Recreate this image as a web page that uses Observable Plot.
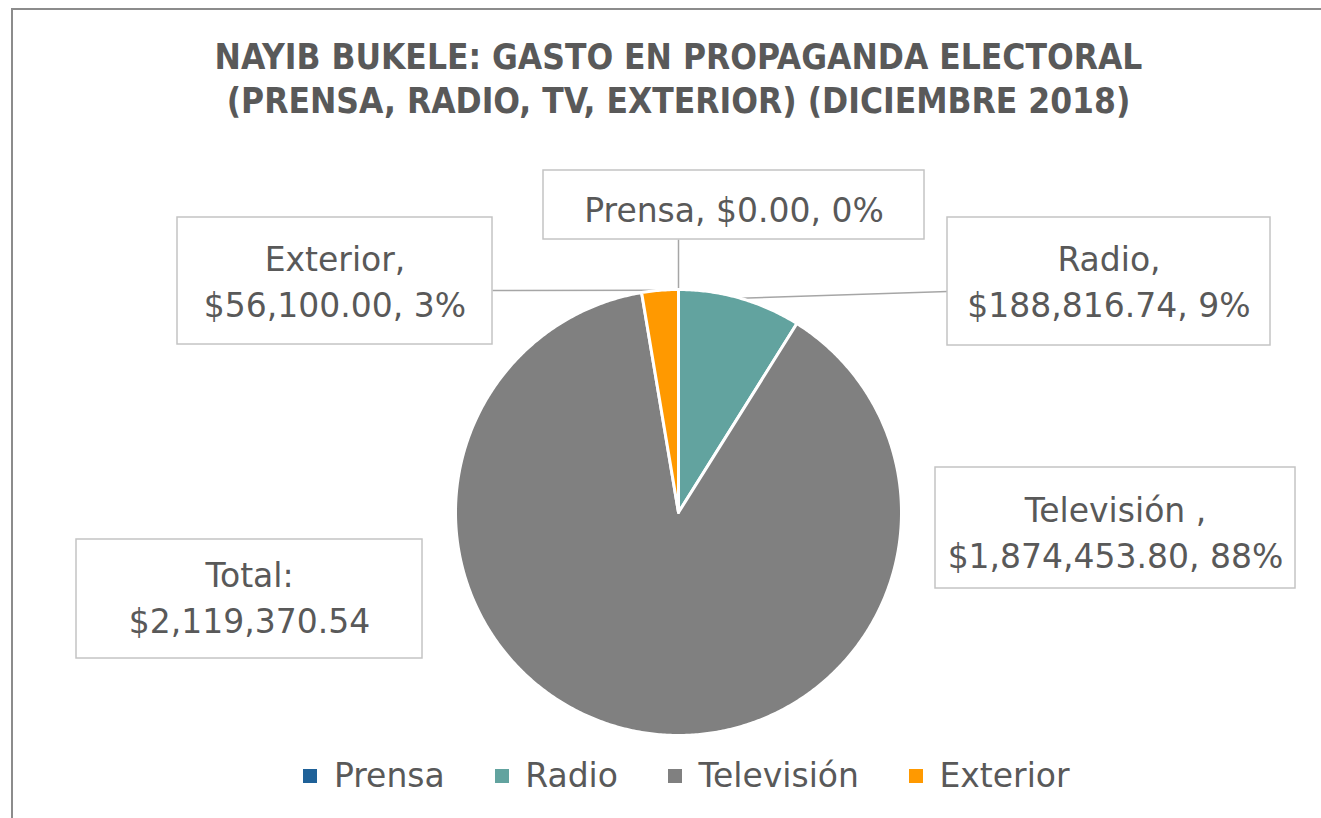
<!DOCTYPE html>
<html><head><meta charset="utf-8">
<script src="https://cdn.jsdelivr.net/npm/d3@7"></script>
<script src="https://cdn.jsdelivr.net/npm/@observablehq/plot@0.6"></script>
<style>
html,body{margin:0;padding:0;background:#fff;width:1321px;height:818px;overflow:hidden;}
#frame{position:absolute;left:11px;top:8px;width:2000px;height:2000px;border:2px solid #8c8c8c;}
#title{position:absolute;left:0;width:1357px;top:35px;text-align:center;font-family:"DejaVu Sans Condensed","DejaVu Sans";font-stretch:condensed;font-weight:bold;font-size:35px;color:#595959;line-height:44px;}
#chart{position:absolute;left:0;top:150px;}
#legend{position:absolute;top:756px;left:0;width:1373px;}
#legend > div{justify-content:center;}
#legend [class$="-swatch"]{margin-right:50px !important;}
#legend [class$="-swatch"]:last-child{margin-right:0 !important;}
</style></head><body>
<div id="frame"></div>
<div id="title">NAYIB BUKELE: GASTO EN PROPAGANDA ELECTORAL<br>(PRENSA, RADIO, TV, EXTERIOR) (DICIEMBRE 2018)</div>
<div id="chart"></div>
<div id="legend"></div>
<script>
// ---- data ----
const categories = ["Prensa", "Radio", "Televisión ", "Exterior"];
const values = [0, 188816.74, 1874453.80, 56100.00];
const colors = ["#1F6198", "#62A39F", "#808080", "#FF9900"];
const totalTitle = "Total:";

// ---- layout (page pixels) ----
const pieCenter = [678, 512];
const pieRadius = 223;
const wrapLabel = [false, true, true, true];
const boxX1 = [543, 947, 935, 177];
const boxX2 = [924, 1270, 1295, 492];
const boxY1 = [170, 217, 467, 217];
const boxY2 = [239, 345, 588, 344];
const textY = [207, 279, 530, 279];
const leaderAnchor = [[678, 239], [947, 291], null, [492, 290]];
const totalBox = {x1: 76, x2: 422, y1: 539, y2: 658, ty: 595};

// ---- derived ----
const total = d3.sum(values);
const money = d3.format("$,.2f");
const pct = d3.format(".0%");
let acc = 0;
const slices = categories.map((c, i) => {
  const a0 = acc / total; acc += values[i];
  return {cat: c, value: values[i], a0, a1: acc / total, i};
});
const [cx, cy] = pieCenter;
const pt = (frac, r) => [cx + r * Math.sin(2 * Math.PI * frac), cy - r * Math.cos(2 * Math.PI * frac)];

const polys = [];
slices.forEach(s => {
  if (s.value === 0) return;
  polys.push({cat: s.cat, x: cx, y: cy});
  const n = Math.max(2, Math.ceil((s.a1 - s.a0) * 720));
  for (let k = 0; k <= n; k++) {
    const [x, y] = pt(s.a0 + (s.a1 - s.a0) * k / n, pieRadius);
    polys.push({cat: s.cat, x, y});
  }
});

const labels = slices.map((s, i) => {
  const m = money(s.value), p = pct(s.value / total);
  return {
    text: wrapLabel[i] ? `${s.cat},\n${m}, ${p}` : `${s.cat}, ${m}, ${p}`,
    x1: boxX1[i], x2: boxX2[i], y1: boxY1[i], y2: boxY2[i],
    tx: (boxX1[i] + boxX2[i]) / 2, ty: textY[i]
  };
});
labels.push({text: `${totalTitle}\n${money(total)}`, x1: totalBox.x1, x2: totalBox.x2, y1: totalBox.y1, y2: totalBox.y2,
  tx: (totalBox.x1 + totalBox.x2) / 2, ty: totalBox.ty});

const leaders = [];
slices.forEach((s, i) => {
  if (!leaderAnchor[i]) return;
  const [x1, y1] = pt((s.a0 + s.a1) / 2, pieRadius);
  leaders.push({x1, y1, x2: leaderAnchor[i][0], y2: leaderAnchor[i][1]});
});

const chart = Plot.plot({
  width: 1321, height: 600,
  margin: 0,
  x: {domain: [0, 1321], range: [0, 1321], axis: null},
  y: {domain: [150, 750], range: [0, 600], axis: null},
  color: {type: "ordinal", domain: categories, range: colors},
  style: {background: "transparent", overflow: "visible"},
  marks: [
    Plot.link(leaders, {x1: "x1", y1: "y1", x2: "x2", y2: "y2", stroke: "#a6a6a6", strokeWidth: 1.5}),
    Plot.line(polys, {x: "x", y: "y", z: "cat", fill: "cat", stroke: "white", strokeWidth: 3, strokeLinejoin: "round", curve: "linear-closed"}),
    Plot.rect(labels, {x1: "x1", x2: "x2", y1: "y1", y2: "y2", fill: "white", stroke: "#c4c4c4", strokeWidth: 1.5}),
    Plot.text(labels, {x: "tx", y: "ty", text: "text", fontSize: 33, fontFamily: "DejaVu Sans", fill: "#595959", lineHeight: 1.4, lineAnchor: "middle"})
  ]
});
document.getElementById("chart").appendChild(chart);

const legend = Plot.legend({
  color: {type: "ordinal", domain: categories, range: colors},
  swatchSize: 14,
  style: {fontSize: "33px", fontFamily: "DejaVu Sans", color: "#595959"}
});
document.getElementById("legend").appendChild(legend);
</script>
</body></html>
